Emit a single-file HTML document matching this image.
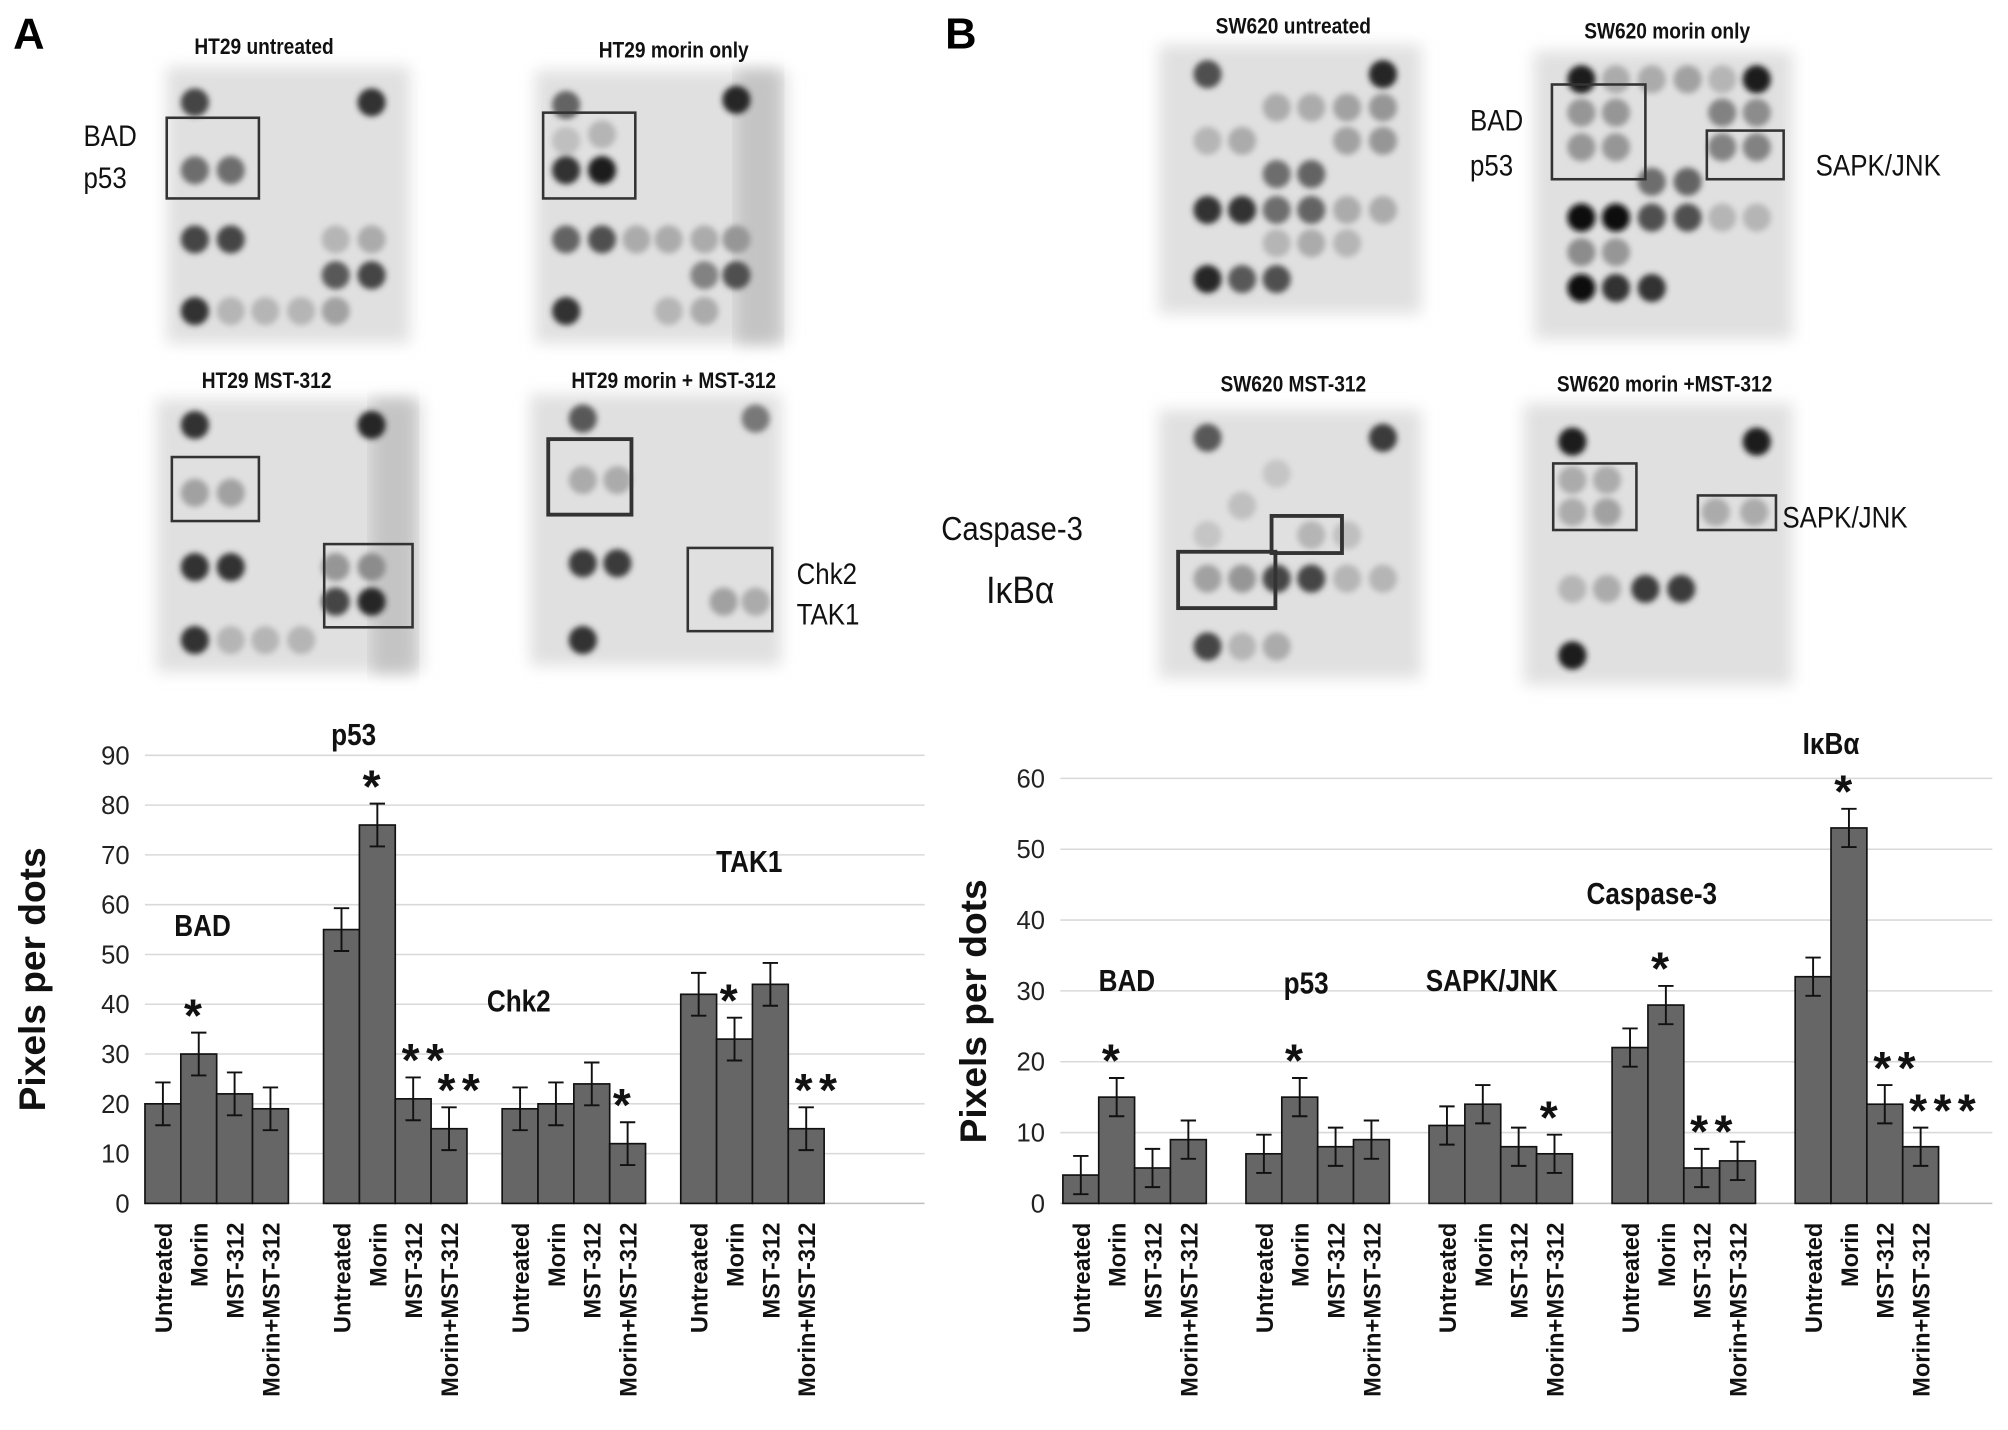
<!DOCTYPE html>
<html><head><meta charset="utf-8"><title>Apoptosis array blots and quantification</title>
<style>
html,body{margin:0;padding:0;background:#fff;}
svg{display:block;}
text{font-family:"Liberation Sans",sans-serif;}
</style></head>
<body>
<svg id="fig" xmlns="http://www.w3.org/2000/svg" width="2008" height="1430" viewBox="0 0 1568 1117">
<defs>
<filter id="blur" x="-50%" y="-50%" width="200%" height="200%"><feGaussianBlur stdDeviation="2.2"/></filter>
<filter id="blur2"><feGaussianBlur stdDeviation="6"/></filter>
</defs>
<rect width="1568" height="1117" fill="#fff"/>
<g id="blots"></g>
<g id="chartA"></g>
<g id="chartB"></g>
<text x="10" y="38" font-size="34" font-weight="bold">A</text>
<text x="738" y="38" font-size="34" font-weight="bold">B</text>
</svg>
<script>
// ---------- Chart A data ----------
const catsA = ["Untreated","Morin","MST-312","Morin+MST-312"];
const groupsA = ["BAD","p53","Chk2","TAK1"];
const valsA_BAD = [20,30,22,19];
const valsA_p53 = [55,76,21,15];
const valsA_Chk2 = [19,20,24,12];
const valsA_TAK1 = [42,33,44,15];
const errA = [4.3,4.3,4.3,4.3];
const starsA_BAD = ["","*","",""];
const starsA_p53 = ["","*","**","**"];
const starsA_Chk2 = ["","","","*"];
const starsA_TAK1 = ["","*","","**"];
const ticksA = [0,10,20,30,40,50,60,70,80,90];
// ---------- Chart B data ----------
const catsB = ["Untreated","Morin","MST-312","Morin+MST-312"];
const groupsB = ["BAD","p53","SAPK/JNK","Caspase-3","I\u03baB\u03b1"];
const valsB_BAD = [4,15,5,9];
const valsB_p53 = [7,15,8,9];
const valsB_SAPK = [11,14,8,7];
const valsB_Casp = [22,28,5,6];
const valsB_IkBa = [32,53,14,8];
const errB = [2.7,2.7,2.7,2.7];
const starsB_BAD = ["","*","",""];
const starsB_p53 = ["","*","",""];
const starsB_SAPK = ["","","","*"];
const starsB_Casp = ["","*","**",""];
const starsB_IkBa = ["","*","**","***"];
const ticksB = [0,10,20,30,40,50,60];

const NS="http://www.w3.org/2000/svg";
function mk(tag,attrs,parent){const e=document.createElementNS(NS,tag);for(const k in attrs)e.setAttribute(k,attrs[k]);parent.appendChild(e);return e;}

function drawChart(root,cfg){
  const yS=v=>cfg.y0-(v/cfg.max)*(cfg.y0-cfg.yTop);
  const xS=(g,i)=>cfg.x0+cfg.gap0+g*cfg.gStep+i*cfg.bw;
  cfg.ticks.forEach(t=>{
    const y=yS(t);
    const gl=mk('line',{x1:cfg.x0,x2:cfg.xEnd,y1:y,y2:y,stroke:t===0?'#bfbfbf':'#d9d9d9','stroke-width':1.2},root);
    
    
    const tl=mk('text',{x:cfg.x0-12,y:y+7,'font-size':20,'text-anchor':'end',fill:'#222'},root);
    tl.textContent=t;
    
    
  });
  const ax=mk('line',{x1:cfg.x0,x2:cfg.x0,y1:cfg.yTop,y2:cfg.y0,stroke:'none'},root);
  
  
  cfg.series.forEach((vals,g)=>{
    vals.forEach((v,i)=>{
      const x=xS(g,i), y=yS(v);
      const b=mk('rect',{x:x,y:y,width:cfg.bw,height:cfg.y0-y,fill:'#666',stroke:'#111','stroke-width':1.3},root);
      
      
      const e=cfg.err[i], cx=x+cfg.bw/2, yt=yS(v+e), yb=yS(v-e);
      const eb=mk('path',{d:`M${cx},${yt}V${yb}M${cx-6},${yt}H${cx+6}M${cx-6},${yb}H${cx+6}`,stroke:'#111','stroke-width':1.5,fill:'none'},root);
      
      
      const s=cfg.stars[g][i];
      if(s){
        const st=mk('text',{x:cx-2,y:yt-1,'font-size':36,'font-weight':'bold','text-anchor':s.length>1?'start':'middle',fill:'#111','letter-spacing':5},root);
        if(s.length>1) st.setAttribute('x',cx-9);
        st.textContent=s;
        
        
      }
      const lx=cx+7, ly=cfg.y0+15;
      const lt=mk('text',{x:lx,y:ly,'font-size':18.5,'font-weight':'bold','text-anchor':'end',fill:'#111',transform:`rotate(-90 ${lx} ${ly})`},root);
      lt.textContent=cfg.cats[i];
      
      
    });
  });
  cfg.groupLabels.forEach((p,g)=>{
    const t=mk('text',{x:p[0],y:p[1],'font-size':24,'font-weight':'bold','text-anchor':'middle',fill:'#111',transform:`scale(0.85 1) translate(${p[0]/0.85-p[0]} 0)`},root);
    t.textContent=cfg.groups[g];
    
    
  });
  const yt=mk('text',{x:cfg.titleX,y:cfg.titleY,'font-size':29,'font-weight':'bold','text-anchor':'middle',fill:'#111',transform:`rotate(-90 ${cfg.titleX} ${cfg.titleY})`},root);
  yt.textContent='Pixels per dots';
  
  
}

drawChart(document.getElementById('chartA'),{
  x0:113,xEnd:722,y0:940,yTop:590,max:90,gap0:0,gStep:139.5,bw:28,
  ticks:ticksA,cats:catsA,groups:groupsA,err:errA,
  series:[valsA_BAD,valsA_p53,valsA_Chk2,valsA_TAK1],
  stars:[starsA_BAD,starsA_p53,starsA_Chk2,starsA_TAK1],
  groupLabels:[[158,731],[276,582],[405,790],[585,681]],
  titleX:35,titleY:765
});
drawChart(document.getElementById('chartB'),{
  x0:828,xEnd:1556,y0:940,yTop:608,max:60,gap0:2,gStep:143,bw:28,
  ticks:ticksB,cats:catsB,groups:groupsB,err:errB,
  series:[valsB_BAD,valsB_p53,valsB_SAPK,valsB_Casp,valsB_IkBa],
  stars:[starsB_BAD,starsB_p53,starsB_SAPK,starsB_Casp,starsB_IkBa],
  groupLabels:[[880,774],[1020,776],[1165,774],[1290,706],[1430,589]],
  titleX:770,titleY:790
});

// ---------- Blot panels (illustrative images) ----------
const blots=[
 {name:'ht29-untreated',r:[130,52,190,216],t:'HT29 untreated',tx:206,ty:42,
  d:[[152,80,.75],[290,80,.85],[152,133,.55],[180,133,.55],[152,187,.75],[180,187,.75],[262,215,.65],[290,215,.75],[152,243,.85],[180,243,.2],[207,243,.2],[235,243,.2],[262,243,.3],[262,187,.2],[290,187,.25]],
  b:[[130,92,72,63,2]],l:[['BAD',65,114],['p53',65,147]]},
 {name:'ht29-morin-only',r:[418,55,197,213],t:'HT29  morin only',tx:526,ty:45,
  d:[[442,82,.6],[575,78,.9],[442,110,.15],[470,105,.2],[442,133,.85],[470,133,.95],[442,187,.6],[470,187,.7],[497,187,.25],[522,187,.25],[550,187,.25],[575,187,.35],[550,215,.45],[575,215,.7],[442,243,.85],[522,243,.2],[550,243,.25]],
  b:[[424,88,72,67,2]],l:[],dark:true},
 {name:'ht29-mst312',r:[122,312,208,213],t:'HT29 MST-312',tx:208,ty:303,
  d:[[152,332,.85],[290,332,.9],[152,385,.3],[180,385,.3],[152,443,.85],[180,443,.85],[262,443,.35],[290,443,.4],[262,470,.75],[290,470,.9],[152,500,.85],[180,500,.2],[207,500,.2],[235,500,.2]],
  b:[[134,357,68,50,2],[253,425,69,65,2]],l:[],dark:true},
 {name:'ht29-morin-mst312',r:[414,308,196,212],t:'HT29  morin + MST-312',tx:526,ty:303,
  d:[[455,327,.65],[590,327,.5],[455,375,.25],[482,375,.25],[455,440,.8],[482,440,.8],[565,470,.3],[590,470,.25],[455,500,.85]],
  b:[[428,343,65,59,3],[537,428,66,65,2]],l:[['Chk2',622,456],['TAK1',622,488]]},
 {name:'sw620-untreated',r:[905,35,205,210],t:'SW620 untreated',tx:1010,ty:26,
  d:[[943,58,.7],[1080,58,.9],[997,84,.25],[1024,84,.25],[1052,84,.3],[1080,84,.35],[943,110,.2],[970,110,.25],[1052,110,.3],[1080,110,.35],[997,136,.55],[1024,136,.6],[943,164,.85],[970,164,.85],[997,164,.55],[1024,164,.6],[1052,164,.25],[1080,164,.25],[997,190,.2],[1024,190,.25],[1052,190,.2],[943,218,.9],[970,218,.65],[997,218,.7]],
  b:[],l:[]},
 {name:'sw620-morin-only',r:[1198,40,202,225],t:'SW620 morin only',tx:1302,ty:30,
  d:[[1235,62,.95],[1262,62,.25],[1290,62,.25],[1318,62,.3],[1345,62,.2],[1372,62,.95],[1235,88,.35],[1262,88,.35],[1345,88,.45],[1372,88,.4],[1235,115,.35],[1262,115,.35],[1345,115,.45],[1372,115,.45],[1290,142,.55],[1318,142,.6],[1235,170,1],[1262,170,1],[1290,170,.7],[1318,170,.7],[1345,170,.2],[1372,170,.2],[1235,197,.4],[1262,197,.35],[1235,225,1],[1262,225,.85],[1290,225,.85]],
  b:[[1212,66,73,74,2],[1333,102,60,38,2]],l:[['BAD',1148,102],['p53',1148,137],['SAPK/JNK',1418,137]]},
 {name:'sw620-mst312',r:[905,320,205,210],t:'SW620 MST-312',tx:1010,ty:306,
  d:[[943,342,.65],[1080,342,.8],[943,452,.3],[970,452,.35],[997,452,.75],[1024,452,.75],[1052,452,.2],[1080,452,.2],[943,505,.75],[970,505,.2],[997,505,.25],[970,395,.15],[1024,418,.2],[1052,418,.15],[943,418,.12],[997,370,.12]],
  b:[[920,431,76,44,3],[993,403,55,29,3]],l:[['Caspase-3',735,422,26],['I\u03baB\u03b1',770,471,30]]},
 {name:'sw620-morin-mst312',r:[1190,315,210,220],t:'SW620 morin +MST-312',tx:1300,ty:306,
  d:[[1228,345,.95],[1372,345,.95],[1228,375,.25],[1255,375,.25],[1228,400,.25],[1255,400,.3],[1340,400,.25],[1370,400,.25],[1228,460,.2],[1255,460,.25],[1285,460,.8],[1313,460,.8],[1228,512,.95]],
  b:[[1213,362,65,52,2],[1326,387,61,27,2]],l:[['SAPK/JNK',1392,412]]}
];
const bg=document.getElementById('blots');
blots.forEach(p=>{
  const g=mk('g',{},bg);
  
  
  const [x,y,w,h]=p.r;
  mk('rect',{x:x,y:y,width:w,height:h,fill:'#e0e0e0',filter:'url(#blur2)'},g);
  if(p.dark) mk('rect',{x:x+w-40,y:y,width:34,height:h,fill:'#c4c4c4',filter:'url(#blur2)'},g);
  p.d.forEach(d=>{
    const c=Math.round(222-d[2]*205);
    mk('circle',{cx:d[0],cy:d[1],r:11,fill:`rgb(${c},${c},${c})`,filter:'url(#blur)'},g);
  });
  p.b.forEach(b=>{
    const r=mk('rect',{x:b[0],y:b[1],width:b[2],height:b[3],fill:'none',stroke:'#333','stroke-width':b[4]},g);
    
    
  });
  const t=mk('text',{x:p.tx,y:p.ty,'font-size':17,'font-weight':'bold','text-anchor':'middle',fill:'#111',transform:`scale(0.88 1) translate(${p.tx/0.88-p.tx} 0)`},g);
  t.textContent=p.t;
  
  
  p.l.forEach(l=>{
    const lt=mk('text',{x:l[1],y:l[2],'font-size':l[3]||23,fill:'#111',transform:`scale(0.88 1) translate(${l[1]/0.88-l[1]} 0)`},g);
    lt.textContent=l[0];
    
    
  });
});
</script>
</body></html>
